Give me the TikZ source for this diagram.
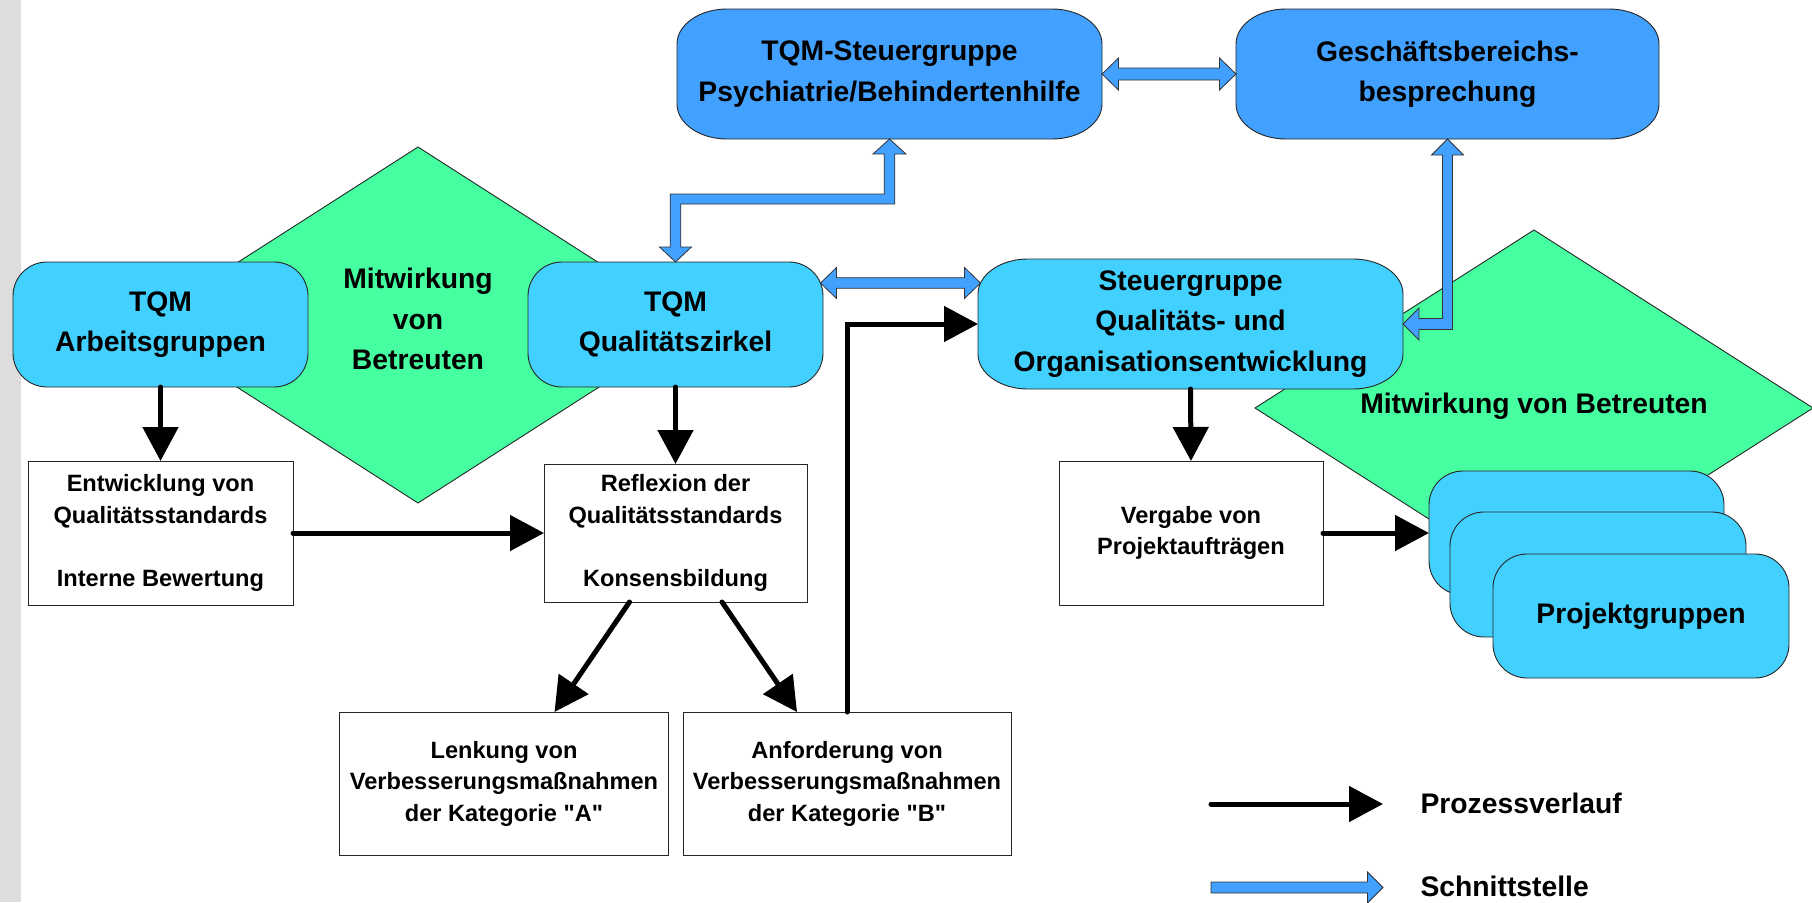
\documentclass[tikz,border=0pt]{standalone}
\usepackage{fontspec}
\setmainfont{Liberation Sans}[Ligatures=TeXOff]
\usetikzlibrary{arrows.meta,calc}
\definecolor{topblue}{RGB}{66,161,255}
\definecolor{cyanbox}{RGB}{66,208,255}
\definecolor{greend}{RGB}{69,255,160}
\definecolor{stripgray}{RGB}{221,221,221}
\pgfdeclarelayer{bga}
\pgfdeclarelayer{bgb}
\pgfsetlayers{bga,bgb,main}
% elliptic rounded box around a node: #1 node, #2 options, #3 rx, #4 ry, #5 (1-k)rx, #6 (1-k)ry
\newcommand{\myebox}[6]{%
 \path[#2] ($(#1.north west)+(#3,0)$) -- ($(#1.north east)+(-#3,0)$)
   .. controls ($(#1.north east)+(-#5,0)$) and ($(#1.north east)+(0,#6)$) .. ($(#1.north east)+(0,#4)$)
   -- ($(#1.south east)+(0,-#4)$)
   .. controls ($(#1.south east)+(0,-#6)$) and ($(#1.south east)+(-#5,0)$) .. ($(#1.south east)+(-#3,0)$)
   -- ($(#1.south west)+(#3,0)$)
   .. controls ($(#1.south west)+(#5,0)$) and ($(#1.south west)+(0,-#6)$) .. ($(#1.south west)+(0,-#4)$)
   -- ($(#1.north west)+(0,#4)$)
   .. controls ($(#1.north west)+(0,#6)$) and ($(#1.north west)+(#5,0)$) .. ($(#1.north west)+(#3,0)$)
   -- cycle;}
\tikzset{
  bigtext/.style={font=\fontsize{28.3pt}{40.5pt}\selectfont\bfseries, align=center},
  smalltext/.style={font=\fontsize{23.6pt}{31.5pt}\selectfont\bfseries, align=center},
  rbox/.style={bigtext, inner sep=0pt, outer sep=0pt, draw=none},
  wbox/.style={smalltext, draw=black!85, line width=0.9pt, fill=white, inner sep=0pt, outer sep=0pt},
  parrow/.style={line width=5pt, line cap=round, -{Triangle[length=34pt,width=35pt]}},
  barrow/.style={fill=topblue, draw=black!80, line width=0.8pt, line join=miter},
  shapeline/.style={draw=black!85, line width=0.9pt},
}
\begin{document}
\begin{tikzpicture}[x=1pt,y=-1pt]
\useasboundingbox (0,0) rectangle (1812,902);
\begin{pgfonlayer}{bga}
\fill[stripgray] (0,0) rectangle (21,902);
\path[shapeline,fill=greend] (418,147) -- (696,325) -- (418,503) -- (140,325) -- cycle;
\path[shapeline,fill=greend] (1534,230) -- (1813,408) -- (1534,586) -- (1255,408) -- cycle;
\end{pgfonlayer}

% rounded boxes (text only; shapes on layer bgb)
\node[rbox, minimum width=425pt, minimum height=130pt] (steuer) at (889.5,74) {TQM-Steuergruppe\\Psychiatrie/Behindertenhilfe};
\node[rbox, minimum width=423pt, minimum height=130pt] (gesch) at (1447.5,74) {Geschäftsbereichs-\\besprechung};
\node[rbox, minimum width=295pt, minimum height=125pt] (arb) at (160.5,324.5) {TQM\\Arbeitsgruppen};
\node[rbox, minimum width=295pt, minimum height=125pt] (qz) at (675.5,324.5) {TQM\\Qualitätszirkel};
\node[rbox, minimum width=425pt, minimum height=130pt] (sqo) at (1190.5,324) {Steuergruppe\\Qualitäts- und\\Organisationsentwicklung};
\node[rbox, minimum width=295pt, minimum height=124pt] (pg1) at (1576.5,533) {};
\node[rbox, minimum width=296pt, minimum height=125pt] (pg2) at (1598,574.5) {};
\node[rbox, minimum width=296pt, minimum height=124pt] (pg3) at (1641,616) {Projektgruppen};

% diamond texts
\node[bigtext] (mitL) at (418,319) {Mitwirkung\\von\\Betreuten};
\node[bigtext, anchor=base] (mitR) at (1534,413) {Mitwirkung von Betreuten};

\begin{pgfonlayer}{bgb}
\myebox{steuer}{shapeline,fill=topblue}{50}{35}{22.4}{15.7}
\myebox{gesch}{shapeline,fill=topblue}{50}{35}{22.4}{15.7}
\myebox{arb}{shapeline,fill=cyanbox}{34}{34}{15.2}{15.2}
\myebox{qz}{shapeline,fill=cyanbox}{34}{34}{15.2}{15.2}
\myebox{sqo}{shapeline,fill=cyanbox}{50}{35}{22.4}{15.7}
\myebox{pg1}{shapeline,fill=cyanbox}{34}{34}{15.2}{15.2}
\myebox{pg2}{shapeline,fill=cyanbox}{34}{34}{15.2}{15.2}
\myebox{pg3}{shapeline,fill=cyanbox}{34}{34}{15.2}{15.2}
\end{pgfonlayer}

% white boxes
\node[wbox, minimum width=265pt, minimum height=144pt] (ent) at (160.5,533) {Entwicklung von\\Qualitätsstandards\\[31.5pt]Interne Bewertung};
\node[wbox, minimum width=263pt, minimum height=138pt] (refl) at (675.5,533) {Reflexion der\\Qualitätsstandards\\[31.5pt]Konsensbildung};
\node[wbox, minimum width=329pt, minimum height=143pt] (lenk) at (504,783.5) {Lenkung von\\Verbesserungsmaßnahmen\\der Kategorie "A"};
\node[wbox, minimum width=328pt, minimum height=143pt] (anf) at (847,783.5) {Anforderung von\\Verbesserungsmaßnahmen\\der Kategorie "B"};
\node[wbox, minimum width=264pt, minimum height=144pt] (verg) at (1191,533) {Vergabe von\\Projektaufträgen};

% interface arrows (blue block arrows)
\draw[barrow] (steuer.east) -- ($(steuer.east)+(16.5,-16)$) -- ($(steuer.east)+(16.5,-6)$)
  -- ($(gesch.west)+(-16.5,-6)$) -- ($(gesch.west)+(-16.5,-16)$) -- (gesch.west)
  -- ($(gesch.west)+(-16.5,16)$) -- ($(gesch.west)+(-16.5,6)$)
  -- ($(steuer.east)+(16.5,6)$) -- ($(steuer.east)+(16.5,16)$) -- cycle;

\coordinate (mid1) at (780,199);
\draw[barrow] (steuer.south) -- ($(steuer.south)+(16.5,15)$) -- ($(steuer.south)+(5.3,15)$)
  -- ($(steuer.south |- mid1)+(5.3,5)$) -- ($(qz.north |- mid1)+(5.3,5)$)
  -- ($(qz.north)+(5.3,-15)$) -- ($(qz.north)+(16,-15)$) -- (qz.north)
  -- ($(qz.north)+(-16,-15)$) -- ($(qz.north)+(-5.3,-15)$)
  -- ($(qz.north |- mid1)+(-5.3,-5)$) -- ($(steuer.south |- mid1)+(-5.3,-5)$)
  -- ($(steuer.south)+(-5.3,15)$) -- ($(steuer.south)+(-16.5,15)$) -- cycle;

\coordinate (yq) at (900,283);
\coordinate (qa) at ($(qz.east |- yq)+(-2.5,0)$);
\coordinate (sb) at ($(sqo.west |- yq)+(2.5,0)$);
\draw[barrow] (qa) -- ($(qa)+(16,-15.5)$) -- ($(qa)+(16,-5.3)$)
  -- ($(sb)+(-16,-5.3)$) -- ($(sb)+(-16,-15.5)$) -- (sb)
  -- ($(sb)+(-16,15.5)$) -- ($(sb)+(-16,5.3)$)
  -- ($(qa)+(16,5.3)$) -- ($(qa)+(16,15.5)$) -- cycle;

\draw[barrow] (gesch.south) -- ($(gesch.south)+(16,16)$) -- ($(gesch.south)+(5,16)$)
  -- ($(gesch.south |- sqo.east)+(5,5.5)$) -- ($(sqo.east)+(16,5.5)$)
  -- ($(sqo.east)+(16,16)$) -- (sqo.east) -- ($(sqo.east)+(16,-16)$)
  -- ($(sqo.east)+(16,-5.5)$) -- ($(gesch.south |- sqo.east)+(-5,-5.5)$)
  -- ($(gesch.south)+(-5,16)$) -- ($(gesch.south)+(-16,16)$) -- cycle;

% process arrows
\draw[parrow] (arb.south) -- (ent.north);
\draw[parrow] (qz.south) -- (refl.north);
\draw[parrow] (ent.east) -- (refl.west);
\draw[parrow] ($(refl.south)+(-46,0)$) -- ($(lenk.north)+(50.5,0)$);
\draw[parrow] ($(refl.south)+(46.5,0)$) -- ($(anf.north)+(-50,0)$);
\draw[parrow] (anf.north) |- (sqo.west);
\draw[parrow] (sqo.south) -- (verg.north);
\draw[parrow] (verg.east) -- (pg1.west);

% legend
\coordinate (lpA) at (1211,804);
\coordinate (lpB) at (1383,804);
\draw[parrow] (lpA) -- (lpB);
\node[bigtext, anchor=base west] (lpT) at (1417,813) {Prozessverlauf};
\coordinate (lsA) at (1211,887.5);
\coordinate (lsB) at (1383,887.5);
\draw[barrow] ($(lsA)+(0,-5.5)$) -- ($(lsB)+(-15.5,-5.5)$) -- ($(lsB)+(-15.5,-15.5)$) -- (lsB)
  -- ($(lsB)+(-15.5,15.5)$) -- ($(lsB)+(-15.5,5.5)$) -- ($(lsA)+(0,5.5)$) -- cycle;
\node[bigtext, anchor=base west] (lsT) at (1417,896) {Schnittstelle};
\end{tikzpicture}
\end{document}
